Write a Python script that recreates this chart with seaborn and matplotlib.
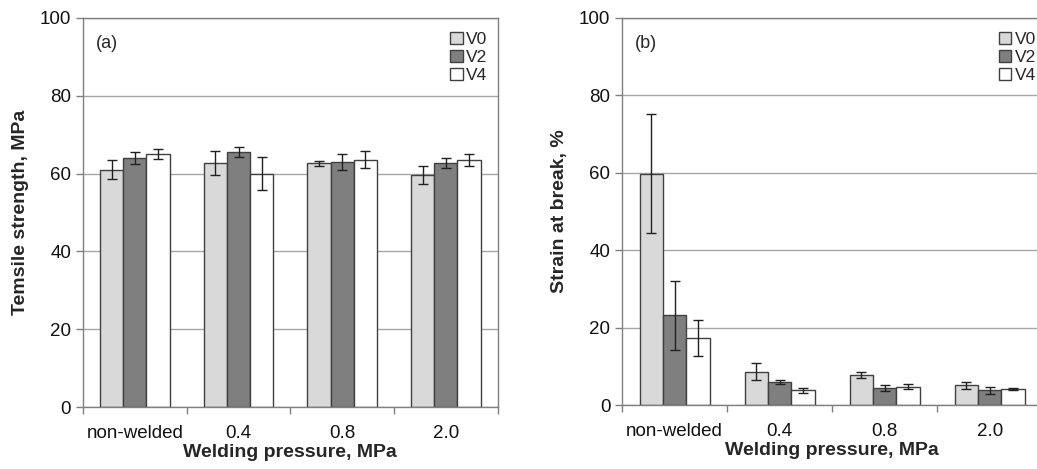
import numpy as np
import pandas as pd
import matplotlib
matplotlib.use('Agg')
import matplotlib.pyplot as plt
import seaborn as sns

# categories / series
pressures = ['non-welded', '0.4', '0.8', '2.0']
samples = ['V0', 'V2', 'V4']

# tensile strength, MPa (mean, error)
ts_V0 = [61.0, 62.7, 62.6, 59.7]
ts_V2 = [64.0, 65.5, 63.0, 62.8]
ts_V4 = [65.0, 60.0, 63.5, 63.5]
ts_err_V0 = [2.5, 3.0, 0.6, 2.3]
ts_err_V2 = [1.5, 1.3, 2.0, 1.3]
ts_err_V4 = [1.2, 4.3, 2.2, 1.5]

# strain at break, % (mean, error)
sb_V0 = [59.8, 8.7, 7.8, 5.2]
sb_V2 = [23.2, 6.0, 4.5, 3.8]
sb_V4 = [17.3, 3.8, 4.8, 4.1]
sb_err_V0 = [15.3, 2.3, 0.7, 0.9]
sb_err_V2 = [8.9, 0.5, 0.8, 1.0]
sb_err_V4 = [4.6, 0.7, 0.6, 0.3]

colors = {'V0': '#d9d9d9', 'V2': '#7f7f7f', 'V4': '#ffffff'}


def make_df(v0, v2, v4, e0, e2, e4):
    rows = []
    for s, vals, errs in zip(samples, [v0, v2, v4], [e0, e2, e4]):
        for p, v, e in zip(pressures, vals, errs):
            rows.append({'pressure': p, 'sample': s, 'value': v, 'err': e})
    return pd.DataFrame(rows)


df_ts = make_df(ts_V0, ts_V2, ts_V4, ts_err_V0, ts_err_V2, ts_err_V4)
df_sb = make_df(sb_V0, sb_V2, sb_V4, sb_err_V0, sb_err_V2, sb_err_V4)

sns.set_style('white')
plt.rcParams['font.family'] = ['Liberation Sans', 'DejaVu Sans']

fig = plt.figure(figsize=(10.37, 4.69), dpi=100)
ax1 = fig.add_axes([0.080, 0.132, 0.400, 0.830])
ax2 = fig.add_axes([0.600, 0.136, 0.405, 0.826])


def draw(ax, df, ylabel, tag, leg_x):
    sns.barplot(data=df, x='pressure', y='value', hue='sample', order=pressures,
                hue_order=samples, palette=colors, errorbar=None, width=0.67,
                edgecolor='#404040', linewidth=1.0, ax=ax, zorder=2)
    # error bars from the bar centres
    for cont, s in zip(ax.containers, samples):
        sub = df[df['sample'] == s].set_index('pressure').loc[pressures]
        xs = [b.get_x() + b.get_width() / 2 for b in cont]
        ax.errorbar(xs, sub['value'], yerr=sub['err'], fmt='none', ecolor='#202020',
                    elinewidth=1.0, capsize=3.5, capthick=1.0, zorder=3)
    ax.set_ylim(0, 100)
    ax.set_xlim(-0.5, 3.5)
    ax.set_yticks([0, 20, 40, 60, 80, 100])
    ax.yaxis.grid(True, color='#a6a6a6', linewidth=1.0, zorder=0)
    ax.set_axisbelow(True)
    ax.set_xticks([-0.5, 0.5, 1.5, 2.5, 3.5])
    ax.set_xticklabels([])
    ax.set_xticks(range(4), minor=True)
    ax.set_xticklabels(pressures, minor=True)
    ax.tick_params(axis='x', which='major', direction='out', length=5, width=1,
                   color='#808080', bottom=True)
    ax.tick_params(axis='x', which='minor', length=0, labelsize=13.5, pad=13,
                   labelcolor='#111111')
    ax.tick_params(axis='y', direction='out', length=5, width=1, color='#808080',
                   left=True, labelsize=13.5, labelcolor='#111111')
    for sp in ax.spines.values():
        sp.set_color('#808080')
        sp.set_linewidth(1.0)
    ax.set_xlabel('Welding pressure, MPa', fontsize=14, fontweight='bold', labelpad=1)
    ax.set_ylabel(ylabel, fontsize=14, fontweight='bold', labelpad=8)
    ax.text(0.03, 0.955, tag, transform=ax.transAxes, fontsize=13, va='top')
    ax.legend(loc='upper right', frameon=False, fontsize=12.5, handlelength=0.7,
              handleheight=0.7, handletextpad=0.2, labelspacing=0.15,
              borderaxespad=0.2, bbox_to_anchor=(leg_x, 0.99))


draw(ax1, df_ts, 'Temsile strength, MPa', '(a)', 1.0)
draw(ax2, df_sb, 'Strain at break, %', '(b)', 1.01)

fig.savefig('out.png', dpi=100)
